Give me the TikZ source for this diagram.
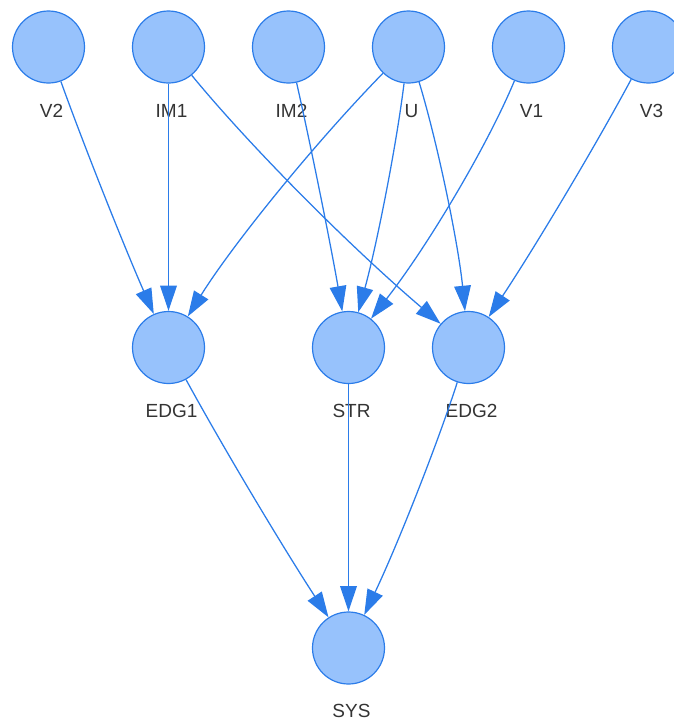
\documentclass[tikz,border=0pt]{standalone}
\usepackage{fontspec}
\setmainfont{Liberation Sans}
\usetikzlibrary{arrows.meta}
\definecolor{nodefill}{HTML}{97C2FC}
\definecolor{nodeborder}{HTML}{2B7CE9}
\definecolor{edgecol}{HTML}{2B7CE9}
\definecolor{labelcol}{HTML}{343434}
\begin{document}
\begin{tikzpicture}[x=0.75pt,y=0.75pt,
  var/.style={circle, draw=nodeborder, fill=nodefill, line width=0.9pt, minimum size=54pt, inner sep=0pt},
  lab/.style={anchor=base, text=labelcol, inner sep=0pt, font=\fontsize{14.25pt}{16pt}\selectfont},
  edge/.style={draw=edgecol, line width=0.95pt, -{Triangle[length=19pt,width=12.5pt]}}]
\clip (0,0) rectangle (674,-719);
% nodes
\node[var] (V2)  at (48.5,-47) {};
\node[var] (IM1) at (168.5,-47) {};
\node[var] (IM2) at (288.5,-47) {};
\node[var] (U)   at (408.5,-47) {};
\node[var] (V1)  at (528.5,-47) {};
\node[var] (V3)  at (648.5,-47) {};
\node[var] (EDG1) at (168.5,-347.5) {};
\node[var] (STR)  at (348.5,-347.5) {};
\node[var] (EDG2) at (468.5,-347.5) {};
\node[var] (SYS)  at (348.5,-648) {};
% labels
\node[lab] (lV2)  at (51.5,-117.3) {V2};
\node[lab] (lIM1) at (171.5,-117.3) {IM1};
\node[lab] (lIM2) at (291.5,-117.3) {IM2};
\node[lab] (lU)   at (411.5,-117.3) {U};
\node[lab] (lV1)  at (531.5,-117.3) {V1};
\node[lab] (lV3)  at (651.5,-117.3) {V3};
\node[lab] (lEDG1) at (171.5,-417.8) {EDG1};
\node[lab] (lSTR)  at (351.5,-417.8) {STR};
\node[lab] (lEDG2) at (471.5,-417.8) {EDG2};
\node[lab] (lSYS)  at (351.5,-717.2) {SYS};
% edges
\draw[edge] (V2) .. controls (84.5,-147.2) and (124.5,-247.3) .. (EDG1);
\draw[edge] (IM1) -- (EDG1);
\draw[edge] (U) .. controls (310.8,-147.2) and (230.8,-247.3) .. (EDG1);
\draw[edge] (IM1) .. controls (250.8,-147.2) and (350.8,-247.3) .. (EDG2);
\draw[edge] (IM2) .. controls (311.2,-147.2) and (331.2,-247.3) .. (STR);
\draw[edge] (U) .. controls (396.2,-147.2) and (376.2,-247.3) .. (STR);
\draw[edge] (U) .. controls (438.8,-147.2) and (458.8,-247.3) .. (EDG2);
\draw[edge] (V1) .. controls (486.8,-147.2) and (426.8,-247.3) .. (STR);
\draw[edge] (V3) .. controls (594.8,-147.2) and (534.8,-247.3) .. (EDG2);
\draw[edge] (EDG1) .. controls (223.2,-447.7) and (283.2,-547.8) .. (SYS);
\draw[edge] (STR) -- (SYS);
\draw[edge] (EDG2) .. controls (436.2,-447.7) and (396.2,-547.8) .. (SYS);
\end{tikzpicture}
\end{document}
